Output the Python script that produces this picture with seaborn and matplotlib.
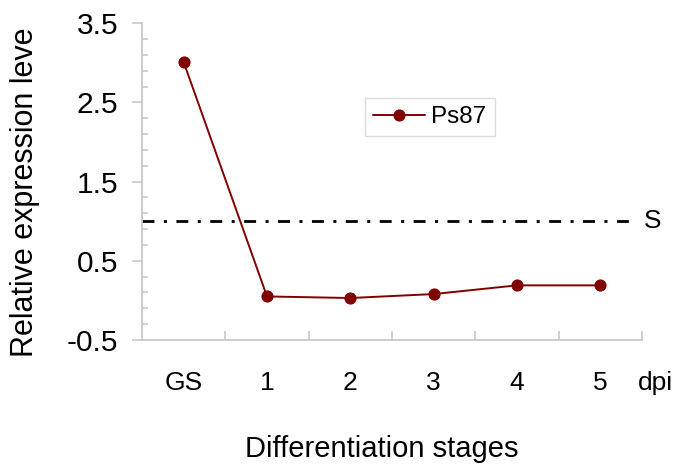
import matplotlib
matplotlib.use("Agg")
import matplotlib.pyplot as plt
import seaborn as sns
import pandas as pd
import numpy as np
from matplotlib.ticker import FixedLocator

categories = ["GS", "1", "2", "3", "4", "5"]
ps87 = [3.01, 0.05, 0.03, 0.08, 0.19, 0.19]
threshold = 1.0
y_ticks = [-0.5, 0.5, 1.5, 2.5, 3.5]

sns.set_theme(style="white")
plt.rcParams['font.family'] = ['Liberation Sans', 'DejaVu Sans']
plt.rcParams['text.color'] = 'black'
plt.rcParams['xtick.color'] = 'black'
plt.rcParams['ytick.color'] = 'black'
plt.rcParams['axes.labelcolor'] = 'black'
plt.rcParams['lines.scale_dashes'] = False

df = pd.DataFrame({"pos": np.arange(len(categories)), "value": ps87, "series": "Ps87"})

fig = plt.figure(figsize=(6.85, 4.72), dpi=100)
ax = fig.add_axes([0.2073, 0.2797, 0.7299, 0.6709])

red = "#800000"
sns.lineplot(data=df, x="pos", y="value", hue="series", palette=[red], marker="o",
             markersize=8, markeredgecolor=red, linewidth=1.4, sort=False, ax=ax, zorder=3)

ax.plot([-0.5, 5.36], [threshold, threshold], color="black", linestyle=(0, (8.6, 6.8, 2.2, 6.8)),
        linewidth=2.0, solid_capstyle="butt", dash_capstyle="butt", clip_on=False, zorder=2)
ax.annotate("S", xy=(5.63, threshold), xycoords="data", fontsize=19, va="center", ha="center",
            annotation_clip=False)

ax.set_xlim(-0.5, 5.5)
ax.set_ylim(-0.5, 3.5)
ax.set_yticks(y_ticks)
ax.set_yticklabels([f"{v:.1f}" for v in y_ticks], fontsize=21.5)
minor_y = [round(v, 1) for v in np.arange(-0.3, 3.45, 0.2) if min(abs(v - t) for t in y_ticks) > 0.05]
ax.yaxis.set_minor_locator(FixedLocator(minor_y))
ax.set_xticks(np.arange(len(categories)))
ax.set_xticklabels(categories, fontsize=19)
ax.xaxis.set_minor_locator(FixedLocator(np.arange(0.5, 5.6, 1.0)))

gray = "#c4c4c4"
for s in ["top", "right"]:
    ax.spines[s].set_visible(False)
for s in ["left", "bottom"]:
    ax.spines[s].set_color(gray)
    ax.spines[s].set_linewidth(1.2)

ax.tick_params(axis="y", which="major", direction="out", length=7, width=1.1, color=gray, pad=10, left=True)
ax.tick_params(axis="y", which="minor", direction="in", length=4.3, width=1.1, color=gray, left=True)
ax.tick_params(axis="x", which="major", length=0, pad=22.5)
ax.tick_params(axis="x", which="minor", direction="in", length=6.5, width=1.1, color=gray, bottom=True)

# "dpi" unit label in line with the category labels
ax.annotate("dpi", xy=(5.66, 0), xycoords=("data", "axes fraction"), xytext=(0, -22.5),
            textcoords="offset points", fontsize=19, va="top", ha="center", annotation_clip=False)

ax.set_xlabel("Differentiation stages", fontsize=21)
ax.xaxis.set_label_coords(0.48, -0.30)
ax.set_ylabel("Relative expression leve", fontsize=22)
ax.yaxis.set_label_coords(-0.205, 0.468)

leg = ax.legend(loc="center", bbox_to_anchor=(0.6277, 0.7521), bbox_transform=fig.transFigure,
                fontsize=17.5, frameon=True, fancybox=False, handlelength=2.14, handletextpad=0.25,
                borderpad=0.33, borderaxespad=0)
leg.get_frame().set_edgecolor("#d4d4d4")
leg.get_frame().set_linewidth(1.0)
leg.set_title(None)

fig.savefig("out.png", dpi=100)
